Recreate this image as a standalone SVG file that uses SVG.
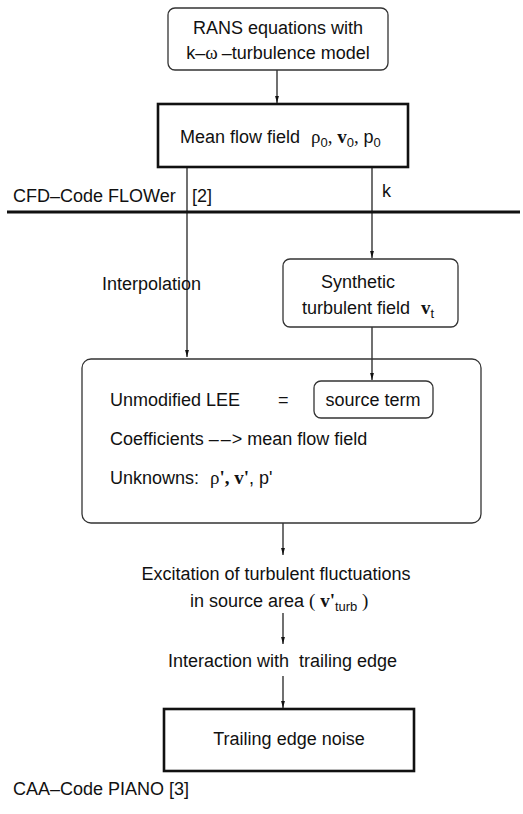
<svg xmlns="http://www.w3.org/2000/svg" width="523" height="814" viewBox="0 0 523 814">
<defs>
<marker id="ah" markerWidth="7" markerHeight="12" refX="11" refY="3" orient="auto" markerUnits="userSpaceOnUse" viewBox="0 0 11 6">
<path d="M0,0 L11,3 L0,6 Z" fill="#111"/>
</marker>
<style>
text{font-family:"Liberation Sans",Arial,sans-serif;font-size:18px;fill:#111}
.ser{font-family:"Liberation Serif","Times New Roman",serif;font-size:19px}
.b{font-weight:bold}
.sub{font-size:13px}
.rbox{fill:none;stroke:#333;stroke-width:1.3}
.sbox{fill:none;stroke:#111;stroke-width:2.6}
.arr{fill:none;stroke:#111;stroke-width:1.2;marker-end:url(#ah)}
</style>
</defs>
<rect width="523" height="814" fill="#fff"/>
<g id="connectors">
<line class="arr" x1="277" y1="70" x2="277" y2="103"/>
<line class="arr" x1="187" y1="167" x2="187" y2="357"/>
<line class="arr" x1="372" y1="167" x2="372" y2="258"/>
<line class="arr" x1="372" y1="327" x2="372" y2="380"/>
<line class="arr" x1="283" y1="523" x2="283" y2="555"/>
<line class="arr" x1="283" y1="613" x2="283" y2="644"/>
<line class="arr" x1="283" y1="676" x2="283" y2="708"/>
<line x1="7" y1="212" x2="520" y2="212" stroke="#111" stroke-width="3"/>
</g>
<g id="rans">
<rect class="rbox" x="168" y="8" width="220" height="62" rx="7"/>
<text x="278" y="34" text-anchor="middle">RANS equations with</text>
<text x="278" y="59" text-anchor="middle">k–<tspan class="ser">ω</tspan><tspan dx="4">–turbulence model</tspan></text>
</g>
<g id="meanflow">
<rect class="sbox" x="158" y="104" width="250" height="63"/>
<text x="180" y="143">Mean flow field <tspan dx="6" class="ser">ρ</tspan><tspan class="sub" dy="4">0</tspan><tspan class="ser" dy="-4">, </tspan><tspan class="ser b">v</tspan><tspan class="sub" dy="4">0</tspan><tspan class="ser" dy="-4">, </tspan>p<tspan class="sub" dy="4">0</tspan></text>
</g>
<g id="labels">
<text x="13" y="202">CFD–Code FLOWer</text>
<text x="192" y="202">[2]</text>
<text x="382" y="197">k</text>
<text x="102" y="290">Interpolation</text>
<text x="13" y="795">CAA–Code PIANO [3]</text>
</g>
<g id="synthetic">
<rect class="rbox" x="283" y="259" width="175" height="68" rx="7"/>
<text x="358" y="288" text-anchor="middle">Synthetic</text>
<text x="302" y="314">turbulent field <tspan dx="6" class="ser b">v</tspan><tspan class="sub" dy="4">t</tspan></text>
</g>
<g id="lee">
<rect class="rbox" x="82" y="359" width="399" height="164" rx="9"/>
<text x="110" y="406">Unmodified LEE</text>
<text x="278" y="406">=</text>
<text x="110" y="445">Coefficients <tspan>–</tspan><tspan dx="2">–</tspan><tspan dx="1">&gt;</tspan> mean flow field</text>
<text x="110" y="484">Unknowns: <tspan dx="6" class="ser">ρ</tspan><tspan class="ser b">', v'</tspan>, p'</text>
</g>
<g id="source">
<rect class="rbox" x="314" y="381" width="119" height="37" rx="7"/>
<text x="373" y="406" text-anchor="middle">source term</text>
</g>
<g id="excitation">
<text x="276" y="580" text-anchor="middle">Excitation of turbulent fluctuations</text>
<text x="190" y="607">in source area <tspan class="ser">( </tspan><tspan class="ser b">v'</tspan><tspan class="sub" dy="4">turb</tspan><tspan class="ser" dy="-4"> )</tspan></text>
</g>
<g id="interaction">
<text x="168" y="667">Interaction with <tspan dx="5">trailing edge</tspan></text>
</g>
<g id="noise">
<rect class="sbox" x="164" y="709" width="250" height="62"/>
<text x="289" y="745" text-anchor="middle">Trailing edge noise</text>
</g>
</svg>
